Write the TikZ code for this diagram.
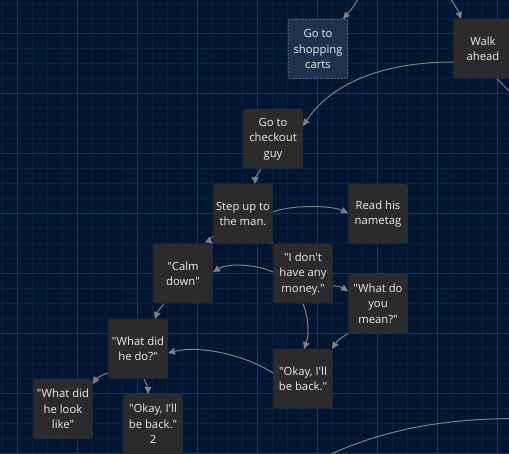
\documentclass[tikz,border=0pt]{standalone}
\usepackage{fontspec}
\newfontfamily\nf{Open Sans}
\usetikzlibrary{arrows.meta}
\definecolor{bgcol}{HTML}{031530}
\definecolor{minorgrid}{HTML}{08203F}
\definecolor{majorgrid}{HTML}{143668}
\definecolor{cardfill}{HTML}{2B2B2B}
\definecolor{dashfill}{HTML}{1F3150}
\definecolor{dashline}{HTML}{6B7890}
\definecolor{edgecol}{HTML}{808080}
\definecolor{txtcol}{HTML}{EDEDED}
\pgfdeclarelayer{grid}
\pgfdeclarelayer{edges}
\pgfsetlayers{grid,edges,main}
\tikzset{
  card/.style={fill=cardfill, rounded corners=2pt, minimum width=59.5pt, minimum height=59.5pt,
    inner sep=0pt, align=center, text=txtcol, font=\nf\fontsize{11.3}{15.5}\selectfont},
  dashcard/.style={card, fill=dashfill, draw=dashline, dashed, dash pattern=on 2pt off 1.5pt, line width=0.6pt},
  arr/.style={draw=edgecol, line width=1pt, -{Triangle[length=7pt,width=6.5pt]}},
  plainedge/.style={draw=edgecol, line width=1pt},
  gridline/.style={line width=1pt},
}
\begin{document}
\begin{tikzpicture}[x=1pt,y=-1pt]
\useasboundingbox (0,0) rectangle (509,454);
\begin{pgfonlayer}{grid}
  \fill[bgcol] (0,0) rectangle (509,454);
  \foreach \k in {0,...,33} {\draw[minorgrid, gridline] ({2.5+15*\k},0) -- ({2.5+15*\k},454);}
  \foreach \k in {0,...,30} {\draw[minorgrid, gridline] (0,{3.5+15*\k}) -- (509,{3.5+15*\k});}
  \foreach \k in {0,...,8} {\draw[majorgrid, gridline] ({17.5+60*\k},0) -- ({17.5+60*\k},454);}
  \foreach \k in {0,...,7} {\draw[majorgrid, gridline] (0,{33.5+60*\k}) -- (509,{33.5+60*\k});}
\end{pgfonlayer}

\node[dashcard] (carts) at (318,49) {Go to\\shopping\\carts};
\node[card] (walk) at (483,49) {Walk\\ahead};
\node[card] (checkout) at (273,139) {Go to\\checkout\\guy};
\node[card] (step) at (243,214) {Step up to\\the man.};
\node[card] (nametag) at (378,214) {Read his\\nametag};
\node[card] (calm) at (183,273.7) {"Calm\\down"};
\node[card] (idont) at (303,273.7) {"I don't\\have any\\money."};
\node[card] (mean) at (378,303.7) {"What do\\you\\mean?"};
\node[card] (dodo) at (138,349) {"What did\\he do?"};
\node[card] (okay) at (303,379) {"Okay, I'll\\be back."};
\node[card] (look) at (63,409) {"What did\\he look\\like"};
\node[card] (okaytwo) at (153,424) {"Okay, I'll\\be back."\\2};

\coordinate (topA) at (359,-4);
\coordinate (topB) at (449,-4);
\coordinate (offR) at (515,97);
\coordinate (botA) at (318,460);
\coordinate (botB) at (520,418.5);

\begin{pgfonlayer}{edges}
  \draw[arr] (topA) .. controls (356,4) and (350,11) .. ([xshift=25pt]carts.north);
  \draw[arr] (topB) .. controls (453,3) and (458,10) .. ([xshift=-22pt]walk.north);
  \draw[arr] ([yshift=-13pt]walk.west) .. controls (380,62) and (330,85) .. ([yshift=13pt]checkout.east);
  \draw[plainedge] ([xshift=14pt]walk.south) -- (offR);
  \draw[arr] ([xshift=-12pt]checkout.south) .. controls (258,174) and (255,178) .. ([xshift=12pt]step.north);
  \draw[arr] ([yshift=2pt]step.east) .. controls (290,205) and (330,205) .. ([yshift=1pt]nametag.west);
  \draw[arr] (step.center) .. controls (228,228) and (208,240) .. (calm.north east);
  \draw[arr] (step.center) .. controls (255,228) and (263,237) .. (idont.north west);
  \draw[arr] ([yshift=1.7pt]idont.west) .. controls (255,264) and (228,263) .. ([yshift=1.7pt]calm.east);
  \draw[arr] ([yshift=-12pt]idont.east) .. controls (339,286) and (343,288) .. ([yshift=12.5pt]mean.west);
  \draw[arr] (idont.south) .. controls (309,318) and (309,335) .. ([xshift=1pt]okay.north);
  \draw[arr] (mean.south west) .. controls (342,337) and (337,341) .. ([xshift=-1pt]okay.north east);
  \draw[arr] ([yshift=6pt]okay.west) .. controls (245,355) and (200,345) .. ([yshift=-4pt]dodo.east);
  \draw[arr] ([xshift=-19pt]calm.south) .. controls (160,308) and (157,313) .. ([xshift=17pt]dodo.north);
  \draw[arr] ([yshift=-24pt]dodo.west) .. controls (101,375) and (96,379) .. ([yshift=25pt]look.east);
  \draw[arr] ([xshift=6pt]dodo.south) .. controls (146,383) and (148,388) .. ([xshift=-5pt]okaytwo.north);
  \draw[plainedge] (botA) .. controls (380,430) and (440,418.5) .. (botB);
\end{pgfonlayer}
\end{tikzpicture}
\end{document}
